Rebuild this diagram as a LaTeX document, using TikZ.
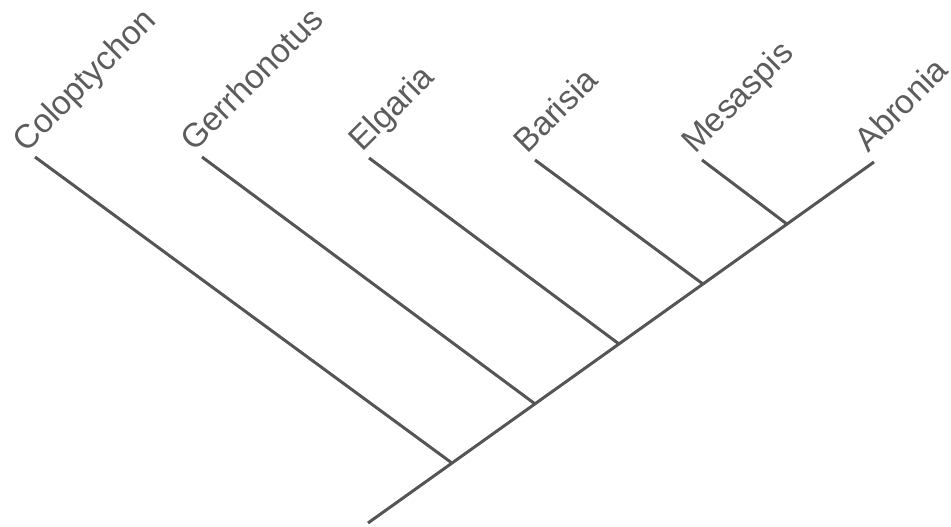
\documentclass[tikz,border=0pt]{standalone}
\usepackage{fontspec}
\setmainfont{Liberation Sans}
\usepackage{tikz}
\usetikzlibrary{positioning, calc}
\usepackage{xcolor}

\definecolor{branchgray}{HTML}{555555}
\definecolor{labelgray}{HTML}{5C5C5C}

\begin{document}
\begin{tikzpicture}[
    branch/.style={draw=branchgray, line width=1.7pt},
    taxon/.style={rotate=45, anchor=base west, inner sep=0pt, text=labelgray, font=\fontsize{19}{22}\selectfont}
]
    \useasboundingbox (0,0) rectangle (19.02,10.54);

    % root and main stem
    \coordinate (root) at (7.36,0.08);
    \coordinate (abro) at (17.48,7.30);
    \coordinate (n1) at ($(root)!0.166!(abro)$);
    \coordinate (n2) at ($(root)!0.330!(abro)$);
    \coordinate (n3) at ($(root)!0.496!(abro)$);
    \coordinate (n4) at ($(root)!0.662!(abro)$);
    \coordinate (n5) at ($(root)!0.828!(abro)$);

    % leaf tips
    \coordinate (colo) at (0.70,7.40);
    \coordinate (gerr) at (4.04,7.40);
    \coordinate (elga) at (7.38,7.38);
    \coordinate (bari) at (10.70,7.34);
    \coordinate (mesa) at (14.04,7.34);

    \node[taxon] (colo-lbl) at ($(colo)+(-0.18,0.06)$) {Coloptychon};
    \node[taxon] (gerr-lbl) at ($(gerr)+(-0.16,0.08)$) {Gerrhonotus};
    \node[taxon] (elga-lbl) at ($(elga)+(-0.14,0.10)$) {Elgaria};
    \node[taxon] (bari-lbl) at ($(bari)+(-0.16,0.10)$) {Barisia};
    \node[taxon] (mesa-lbl) at ($(mesa)+(-0.14,0.10)$) {Mesaspis};
    \node[taxon] (abro-lbl) at ($(abro)+(-0.12,0.16)$) {Abronia};

    \draw[branch] (root) -- (abro);
    \draw[branch] (colo) -- (n1);
    \draw[branch] (gerr) -- (n2);
    \draw[branch] (elga) -- (n3);
    \draw[branch] (bari) -- (n4);
    \draw[branch] (mesa) -- (n5);
\end{tikzpicture}
\end{document}
